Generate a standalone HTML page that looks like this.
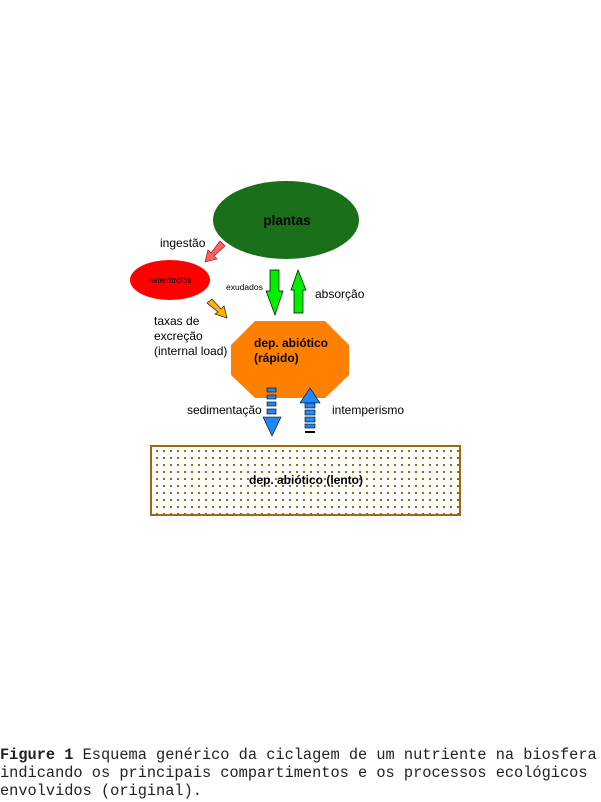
<!DOCTYPE html>
<html><head><meta charset="utf-8"><style>
body{margin:0;background:#fff;width:601px;height:802px;overflow:hidden}
.cap{position:absolute;left:0;top:746px;font-family:"Liberation Mono",monospace;font-size:15.3px;line-height:18px;white-space:pre;color:#222}
</style></head><body>
<svg width="601" height="802" style="position:absolute;left:0;top:0" font-family="Liberation Sans, sans-serif">
<defs>
<pattern id="dots" width="7" height="7" patternUnits="userSpaceOnUse"><rect width="7" height="7" fill="#fff"/><rect x="2" y="2" width="2" height="2" fill="#9a6a10"/></pattern>
</defs>
<ellipse cx="286" cy="220" rx="73" ry="39" fill="#1a701a"/>
<text x="287" y="225" font-size="13.5" font-weight="bold" text-anchor="middle">plantas</text>
<ellipse cx="170" cy="280" rx="40" ry="20" fill="#ff0000"/>
<text x="170" y="283" font-size="8" text-anchor="middle">heterótrofos</text>
<polygon points="255,321 325,321 349,345 349,375 325,398 255,398 231,375 231,345" fill="#ff8000"/>
<text x="254" y="347" font-size="12" font-weight="bold">dep. abiótico</text>
<text x="254" y="362" font-size="12" font-weight="bold">(rápido)</text>
<rect x="151" y="446" width="309" height="69" fill="url(#dots)" stroke="#9a6a10" stroke-width="2"/>
<text x="306" y="484" font-size="12" font-weight="bold" text-anchor="middle">dep. abiótico (lento)</text>
<polygon points="270,270 279,270 279,291 283,291 275,315 266,291 270,291" fill="#00ee00" stroke="#000" stroke-width="0.7"/>
<polygon points="294,313 303,313 303,290 306,290 298,270 291,290 294,290" fill="#00ee00" stroke="#000" stroke-width="0.7"/>
<polygon points="220,241 225,246 214,256 217,259 205,262 208,250 211,253" fill="#ff6060" stroke="#800" stroke-width="0.6"/>
<polygon points="207,303 212,299 221,309 224,306 227,318 215,314 218,312" fill="#ffb000" stroke="#000" stroke-width="0.6"/>
<g fill="#1e88ff" stroke="#000" stroke-width="0.6">
<rect x="267" y="388" width="9" height="4"/><rect x="267" y="395" width="9" height="4"/><rect x="267" y="402" width="9" height="4"/><rect x="267" y="409" width="9" height="5"/>
<polygon points="263,417 281,417 272,436"/>
<polygon points="300,403 320,403 310,388"/>
<rect x="305" y="403" width="10" height="5"/><rect x="305" y="410" width="10" height="5"/><rect x="305" y="417" width="10" height="5"/><rect x="305" y="424" width="10" height="4"/>
</g>
<rect x="305" y="431" width="10" height="2" fill="#000"/>
<g font-size="12">
<text x="160" y="247">ingestão</text>
<text x="226" y="290" font-size="8.5">exudados</text>
<text x="315" y="298">absorção</text>
<text x="154" y="325">taxas de</text>
<text x="154" y="340">excreção</text>
<text x="154" y="355">(internal load)</text>
<text x="187" y="414">sedimentação</text>
<text x="332" y="414">intemperismo</text>
</g>
</svg>
<div class="cap"><b>Figure 1</b> Esquema genérico da ciclagem de um nutriente na biosfera
indicando os principais compartimentos e os processos ecológicos
envolvidos (original).</div>
</body></html>
